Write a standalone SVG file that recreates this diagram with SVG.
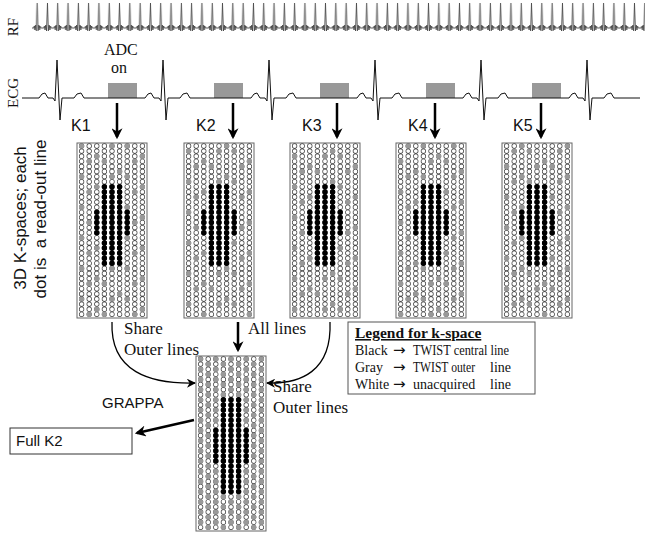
<svg xmlns="http://www.w3.org/2000/svg" width="664" height="536" viewBox="0 0 664 536">
<style>
.tm{font-family:"Liberation Serif","Times New Roman",serif;font-size:17px;fill:#111}
.ar{font-family:"Liberation Sans",Arial,sans-serif;font-size:16px;fill:#111}
.box{fill:#fff;stroke:#666;stroke-width:1}
.rd{stroke:#444;stroke-width:5.3;stroke-linecap:round;stroke-dasharray:0 5.1;fill:none}
.rw{stroke:#fff;stroke-width:3.9;stroke-linecap:round;stroke-dasharray:0 5.1;fill:none}
.g{stroke:#999;stroke-width:5.2;stroke-linecap:round;stroke-dasharray:0 30.6;fill:none}
.g2{stroke:#999;stroke-width:5.2;stroke-linecap:round;stroke-dasharray:0 10.2;fill:none}
.b{stroke:#000;stroke-width:5.4;stroke-linecap:round;stroke-dasharray:0 5.1;fill:none}
.dn{stroke:#000;stroke-width:2.5;fill:none;marker-end:url(#ah)}
.cv{stroke:#000;stroke-width:1.3;fill:none;marker-end:url(#ah2)}
.adc{fill:#999}
.lg{font-family:"Liberation Serif","Times New Roman",serif;font-size:14px;fill:#111;white-space:pre}
.la{font-family:"DejaVu Sans",sans-serif;font-size:15px}
</style>
<defs>
<pattern id="rf" patternUnits="userSpaceOnUse" x="32" y="0" width="10.3" height="40"><path d="M0,28 L1.6,28 L2.2,26 L2.8,30 L3.5,25 L4.3,31 L5.15,3 L6,31 L6.8,25 L7.5,30 L8.1,26 L8.7,28 L10.3,28" fill="none" stroke="#444" stroke-width="0.9"/></pattern>
<marker id="ah" viewBox="0 0 10 10" refX="8" refY="5" markerWidth="11" markerHeight="11" markerUnits="userSpaceOnUse" orient="auto"><path d="M0,0 L10,5 L0,10 L3,5z" fill="#000"/></marker>
<marker id="ah2" viewBox="0 0 10 10" refX="9" refY="5" markerWidth="9" markerHeight="9" markerUnits="userSpaceOnUse" orient="auto"><path d="M0,0 L10,5 L0,10 L3,5z" fill="#000"/></marker>
<g id="wgrid">
<rect class="box" width="70" height="175"/>
<g class="rd">
<line x1="4.6" x2="4.6" y1="3" y2="171.6"/><line x1="12.2" x2="12.2" y1="3" y2="171.6"/><line x1="19.8" x2="19.8" y1="3" y2="171.6"/><line x1="27.4" x2="27.4" y1="3" y2="171.6"/><line x1="35" x2="35" y1="3" y2="171.6"/><line x1="42.6" x2="42.6" y1="3" y2="171.6"/><line x1="50.2" x2="50.2" y1="3" y2="171.6"/><line x1="57.8" x2="57.8" y1="3" y2="171.6"/><line x1="65.4" x2="65.4" y1="3" y2="171.6"/>
</g>
<g class="rw">
<line x1="4.6" x2="4.6" y1="3" y2="171.6"/><line x1="12.2" x2="12.2" y1="3" y2="171.6"/><line x1="19.8" x2="19.8" y1="3" y2="171.6"/><line x1="27.4" x2="27.4" y1="3" y2="171.6"/><line x1="35" x2="35" y1="3" y2="171.6"/><line x1="42.6" x2="42.6" y1="3" y2="171.6"/><line x1="50.2" x2="50.2" y1="3" y2="171.6"/><line x1="57.8" x2="57.8" y1="3" y2="171.6"/><line x1="65.4" x2="65.4" y1="3" y2="171.6"/>
</g>
</g>
<g id="kblack">
<line class="b" x1="27.4" x2="27.4" y1="43.8" y2="120.6"/>
<line class="b" x1="35" x2="35" y1="43.8" y2="120.6"/>
<line class="b" x1="42.6" x2="42.6" y1="43.8" y2="120.6"/>
<line class="b" x1="19.8" x2="19.8" y1="69.3" y2="90"/>
<line class="b" x1="50.2" x2="50.2" y1="69.3" y2="90"/>
</g>
</defs>

<g id="rf-trace">
<text class="tm" style="font-size:15px" transform="translate(18,27) rotate(-90)" text-anchor="middle">RF</text>
<rect x="32" y="0" width="613" height="40" fill="url(#rf)"/>
</g>

<g id="ecg-trace">
<text class="tm" style="font-size:15px" transform="translate(18,93) rotate(-90)" text-anchor="middle">ECG</text>
<rect class="adc" x="108" y="83" width="29" height="15"/>
<rect class="adc" x="214" y="83" width="29" height="15"/>
<rect class="adc" x="320" y="83" width="29" height="15"/>
<rect class="adc" x="426" y="83" width="29" height="15"/>
<rect class="adc" x="532" y="83" width="29" height="15"/>
<path fill="none" stroke="#111" stroke-width="1" d="M22,98 L39,98 42,94 45,93 48,98 53,98 55,101 57,60 60,120 62,98 74,98 77,94 81,93 84,98 L145,98 148,94 151,93 154,98 159,98 161,101 163,60 166,120 168,98 180,98 183,94 187,93 190,98 L251,98 254,94 257,93 260,98 265,98 267,101 269,60 272,120 274,98 286,98 289,94 293,93 296,98 L357,98 360,94 363,93 366,98 371,98 373,101 375,60 378,120 380,98 392,98 395,94 399,93 402,98 L463,98 466,94 469,93 472,98 477,98 479,101 481,60 484,120 486,98 498,98 501,94 505,93 508,98 L569,98 572,94 575,93 578,98 583,98 585,101 587,60 590,120 592,98 604,98 607,94 611,93 614,98 L640,98"/>
<text class="tm" style="font-size:16px" x="104" y="55">ADC</text>
<text class="tm" style="font-size:16px" x="111" y="73">on</text>
</g>

<g id="side-label">
<text class="ar" style="font-size:17px" transform="translate(26,218) rotate(-90)" text-anchor="middle">3D K-spaces; each</text>
<text class="ar" style="font-size:17px;white-space:pre" transform="translate(46,219) rotate(-90)" text-anchor="middle">dot is  a read-out line</text>
</g>

<g id="K1">
<text class="ar" x="71" y="131">K1</text>
<g transform="translate(77,143)">
<use href="#wgrid"/>
<line class="g" x1="4.6" x2="4.6" y1="3" y2="172" stroke-dashoffset="0"/>
<line class="g" x1="12.2" x2="12.2" y1="3" y2="172" stroke-dashoffset="15.3"/>
<line class="g" x1="19.8" x2="19.8" y1="3" y2="172" stroke-dashoffset="20.4"/>
<line class="g" x1="27.4" x2="27.4" y1="3" y2="172" stroke-dashoffset="15.3"/>
<line class="g" x1="35" x2="35" y1="3" y2="172" stroke-dashoffset="0"/>
<line class="g" x1="42.6" x2="42.6" y1="3" y2="172" stroke-dashoffset="5.1"/>
<line class="g" x1="50.2" x2="50.2" y1="3" y2="172" stroke-dashoffset="0"/>
<line class="g" x1="57.8" x2="57.8" y1="3" y2="172" stroke-dashoffset="15.3"/>
<line class="g" x1="65.4" x2="65.4" y1="3" y2="172" stroke-dashoffset="20.4"/>
<use href="#kblack"/>
</g>
</g>

<g id="K2">
<text class="ar" x="196" y="131">K2</text>
<g transform="translate(184,143)">
<use href="#wgrid"/>
<line class="g" x1="4.6" x2="4.6" y1="3" y2="172" stroke-dashoffset="25.5"/>
<line class="g" x1="12.2" x2="12.2" y1="3" y2="172" stroke-dashoffset="10.2"/>
<line class="g" x1="19.8" x2="19.8" y1="3" y2="172" stroke-dashoffset="15.3"/>
<line class="g" x1="27.4" x2="27.4" y1="3" y2="172" stroke-dashoffset="10.2"/>
<line class="g" x1="35" x2="35" y1="3" y2="172" stroke-dashoffset="25.5"/>
<line class="g" x1="42.6" x2="42.6" y1="3" y2="172" stroke-dashoffset="0"/>
<line class="g" x1="50.2" x2="50.2" y1="3" y2="172" stroke-dashoffset="25.5"/>
<line class="g" x1="57.8" x2="57.8" y1="3" y2="172" stroke-dashoffset="10.2"/>
<line class="g" x1="65.4" x2="65.4" y1="3" y2="172" stroke-dashoffset="15.3"/>
<use href="#kblack"/>
</g>
</g>

<g id="K3">
<text class="ar" x="302" y="131">K3</text>
<g transform="translate(290,143)">
<use href="#wgrid"/>
<line class="g" x1="4.6" x2="4.6" y1="3" y2="172" stroke-dashoffset="20.4"/>
<line class="g" x1="12.2" x2="12.2" y1="3" y2="172" stroke-dashoffset="5.1"/>
<line class="g" x1="19.8" x2="19.8" y1="3" y2="172" stroke-dashoffset="10.2"/>
<line class="g" x1="27.4" x2="27.4" y1="3" y2="172" stroke-dashoffset="5.1"/>
<line class="g" x1="35" x2="35" y1="3" y2="172" stroke-dashoffset="20.4"/>
<line class="g" x1="42.6" x2="42.6" y1="3" y2="172" stroke-dashoffset="25.5"/>
<line class="g" x1="50.2" x2="50.2" y1="3" y2="172" stroke-dashoffset="20.4"/>
<line class="g" x1="57.8" x2="57.8" y1="3" y2="172" stroke-dashoffset="5.1"/>
<line class="g" x1="65.4" x2="65.4" y1="3" y2="172" stroke-dashoffset="10.2"/>
<use href="#kblack"/>
</g>
</g>

<g id="K4">
<text class="ar" x="408" y="131">K4</text>
<g transform="translate(396,143)">
<use href="#wgrid"/>
<line class="g" x1="4.6" x2="4.6" y1="3" y2="172" stroke-dashoffset="15.3"/>
<line class="g" x1="12.2" x2="12.2" y1="3" y2="172" stroke-dashoffset="0"/>
<line class="g" x1="19.8" x2="19.8" y1="3" y2="172" stroke-dashoffset="5.1"/>
<line class="g" x1="27.4" x2="27.4" y1="3" y2="172" stroke-dashoffset="0"/>
<line class="g" x1="35" x2="35" y1="3" y2="172" stroke-dashoffset="15.3"/>
<line class="g" x1="42.6" x2="42.6" y1="3" y2="172" stroke-dashoffset="20.4"/>
<line class="g" x1="50.2" x2="50.2" y1="3" y2="172" stroke-dashoffset="15.3"/>
<line class="g" x1="57.8" x2="57.8" y1="3" y2="172" stroke-dashoffset="0"/>
<line class="g" x1="65.4" x2="65.4" y1="3" y2="172" stroke-dashoffset="5.1"/>
<use href="#kblack"/>
</g>
</g>

<g id="K5">
<text class="ar" x="513" y="131">K5</text>
<g transform="translate(502,143)">
<use href="#wgrid"/>
<line class="g" x1="4.6" x2="4.6" y1="3" y2="172" stroke-dashoffset="10.2"/>
<line class="g" x1="12.2" x2="12.2" y1="3" y2="172" stroke-dashoffset="25.5"/>
<line class="g" x1="19.8" x2="19.8" y1="3" y2="172" stroke-dashoffset="0"/>
<line class="g" x1="27.4" x2="27.4" y1="3" y2="172" stroke-dashoffset="25.5"/>
<line class="g" x1="35" x2="35" y1="3" y2="172" stroke-dashoffset="10.2"/>
<line class="g" x1="42.6" x2="42.6" y1="3" y2="172" stroke-dashoffset="15.3"/>
<line class="g" x1="50.2" x2="50.2" y1="3" y2="172" stroke-dashoffset="10.2"/>
<line class="g" x1="57.8" x2="57.8" y1="3" y2="172" stroke-dashoffset="25.5"/>
<line class="g" x1="65.4" x2="65.4" y1="3" y2="172" stroke-dashoffset="0"/>
<use href="#kblack"/>
</g>
</g>

<g id="combined-K2">
<g transform="translate(196,356)">
<use href="#wgrid"/>
<line class="g2" x1="4.6" x2="4.6" y1="3" y2="172" stroke-dashoffset="0"/>
<line class="g2" x1="12.2" x2="12.2" y1="3" y2="172" stroke-dashoffset="5.1"/>
<line class="g2" x1="19.8" x2="19.8" y1="3" y2="172" stroke-dashoffset="0"/>
<line class="g2" x1="27.4" x2="27.4" y1="3" y2="172" stroke-dashoffset="5.1"/>
<line class="g2" x1="35" x2="35" y1="3" y2="172" stroke-dashoffset="0"/>
<line class="g2" x1="42.6" x2="42.6" y1="3" y2="172" stroke-dashoffset="5.1"/>
<line class="g2" x1="50.2" x2="50.2" y1="3" y2="172" stroke-dashoffset="0"/>
<line class="g2" x1="57.8" x2="57.8" y1="3" y2="172" stroke-dashoffset="5.1"/>
<line class="g2" x1="65.4" x2="65.4" y1="3" y2="172" stroke-dashoffset="0"/>
<line class="b" x1="27.4" x2="27.4" y1="43.8" y2="135.9"/>
<line class="b" x1="35" x2="35" y1="43.8" y2="135.9"/>
<line class="b" x1="42.6" x2="42.6" y1="43.8" y2="135.9"/>
<line class="b" x1="19.8" x2="19.8" y1="74.4" y2="105.3"/>
<line class="b" x1="50.2" x2="50.2" y1="74.4" y2="105.3"/>
</g>
</g>

<g id="legend">
<rect x="348" y="322" width="187" height="72" fill="#fff" stroke="#555" stroke-width="1"/>
<text class="lg" style="font-size:15.5px;font-weight:bold;text-decoration:underline" x="355" y="338">Legend for k-space</text>
<text class="lg" y="355"><tspan x="355">Black</tspan><tspan class="la" x="393">→</tspan><tspan x="413" textLength="96" lengthAdjust="spacingAndGlyphs">TWIST central line</tspan></text>
<text class="lg" y="372"><tspan x="355">Gray</tspan><tspan class="la" x="393">→</tspan><tspan x="413" textLength="62" lengthAdjust="spacingAndGlyphs">TWIST outer</tspan><tspan x="490">line</tspan></text>
<text class="lg" y="389"><tspan x="355">White</tspan><tspan class="la" x="393">→</tspan><tspan x="413">unacquired</tspan><tspan x="490">line</tspan></text>
</g>

<g id="full-K2">
<rect x="10" y="428" width="122" height="26" fill="#fff" stroke="#333" stroke-width="1"/>
<text class="ar" style="font-size:15px" x="16" y="446">Full K2</text>
</g>

<g id="connectors">
<line class="dn" x1="117" y1="103" x2="117" y2="137"/>
<line class="dn" x1="233" y1="103" x2="233" y2="137"/>
<line class="dn" x1="337" y1="103" x2="337" y2="137"/>
<line class="dn" x1="435" y1="103" x2="435" y2="137"/>
<line class="dn" x1="541" y1="103" x2="541" y2="137"/>
<line class="dn" x1="238" y1="322" x2="238" y2="350"/>
<path class="cv" d="M112,322 C110,372 150,384 195,383"/>
<path class="cv" d="M330,322 C332,372 300,384 267,383"/>
<line class="dn" x1="194" y1="420" x2="137" y2="433"/>
<text class="tm" x="124" y="334">Share</text>
<text class="tm" x="124" y="355">Outer lines</text>
<text class="tm" x="248" y="334">All lines</text>
<text class="tm" x="273" y="392">Share</text>
<text class="tm" x="273" y="413">Outer lines</text>
<text class="ar" style="font-size:15px" x="102" y="408">GRAPPA</text>
</g>
</svg>
